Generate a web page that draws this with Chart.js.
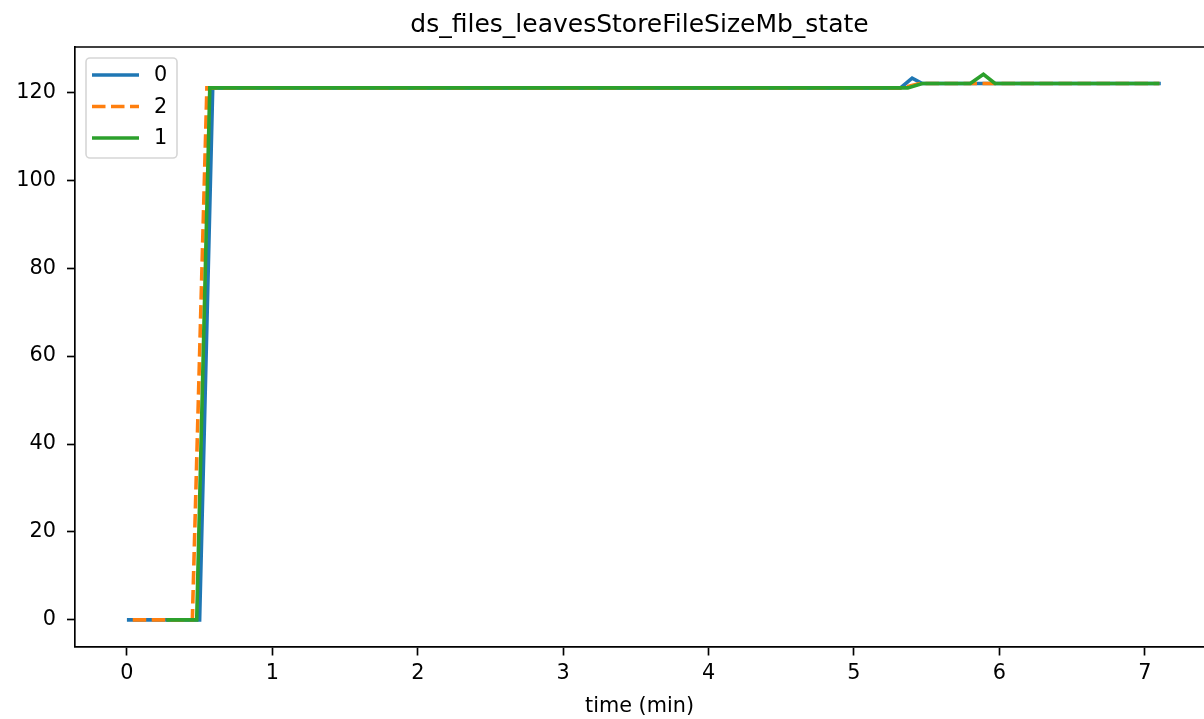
<!DOCTYPE html>
<html lang="en">
<head>
    <meta charset="UTF-8">
    <title>ds_files_leavesStoreFileSizeMb_state</title>
    <style>
        body {
            margin: 0;
            padding: 0;
            background-color: #fff;
        }

        #wrap {
            width: 1204px;
            height: 719px;
        }
    </style>
</head>
<body>
    <div id="wrap"><canvas id="stateChart" width="1204" height="719"></canvas></div>

    <script src="https://cdn.jsdelivr.net/npm/chart.js"></script>
    <script>
        // series values (time in minutes, size in Mb)
        const series0Time = [0, 0.50, 0.59, 5.32, 5.40, 5.47, 7.11];
        const series0Value = [0, 0, 121, 121, 123.2, 122, 122];

        const series2Time = [0.04, 0.45, 0.55, 5.33, 5.45, 7.10];
        const series2Value = [0, 0, 121, 121, 122, 122];

        const series1Time = [0.27, 0.48, 0.57, 5.37, 5.47, 5.80, 5.89, 5.97, 7.10];
        const series1Value = [0, 0, 121, 121, 122, 122, 124.1, 122, 122];

        const seriesLabels = ['0', '2', '1'];
        const xTicks = [0, 1, 2, 3, 4, 5, 6, 7];
        const yTicks = [0, 20, 40, 60, 80, 100, 120];

        const font = 'DejaVu Sans';

        function points(times, values) {
            return times.map((t, i) => ({ x: t, y: values[i] }));
        }

        // top spine (right one falls off the picture)
        const frame = {
            id: 'frame',
            afterDraw(chart) {
                const a = chart.chartArea;
                const ctx = chart.ctx;
                ctx.save();
                ctx.strokeStyle = '#000';
                ctx.lineWidth = 1.67;
                ctx.beginPath();
                ctx.moveTo(a.left, a.top);
                ctx.lineTo(a.right, a.top);
                ctx.stroke();
                ctx.restore();
            }
        };

        // legend box in the upper left of the axes
        const innerLegend = {
            id: 'innerLegend',
            afterDraw(chart) {
                const a = chart.chartArea;
                const ctx = chart.ctx;
                const x = a.left + 11, y = a.top + 11, w = 91, h = 100;
                ctx.save();
                ctx.fillStyle = 'rgba(255,255,255,0.8)';
                ctx.strokeStyle = '#d6d6d6';
                ctx.lineWidth = 1.6;
                ctx.beginPath();
                ctx.roundRect(x, y, w, h, 4);
                ctx.fill();
                ctx.stroke();
                ctx.font = '20.8px "' + font + '"';
                ctx.textBaseline = 'middle';
                chart.data.datasets.forEach((ds, i) => {
                    const ry = y + 17 + i * 31.5;
                    ctx.strokeStyle = ds.borderColor;
                    ctx.lineWidth = ds.borderWidth;
                    ctx.setLineDash(ds.borderDash || []);
                    ctx.beginPath();
                    ctx.moveTo(x + 6, ry);
                    ctx.lineTo(x + 53, ry);
                    ctx.stroke();
                    ctx.setLineDash([]);
                    ctx.fillStyle = '#000';
                    ctx.fillText(ds.label, x + 68, ry + 1);
                });
                ctx.restore();
            }
        };

        const ctx = document.getElementById('stateChart').getContext('2d');
        new Chart(ctx, {
            type: 'line',
            data: {
                datasets: [
                    {
                        label: seriesLabels[0],
                        data: points(series0Time, series0Value),
                        borderColor: '#1f77b4',
                        borderWidth: 3.6,
                        order: 3
                    },
                    {
                        label: seriesLabels[1],
                        data: points(series2Time, series2Value),
                        borderColor: '#ff7f0e',
                        borderWidth: 3.6,
                        borderDash: [13.5, 5.5],
                        order: 2
                    },
                    {
                        label: seriesLabels[2],
                        data: points(series1Time, series1Value),
                        borderColor: '#2ca02c',
                        borderWidth: 3.6,
                        order: 1
                    }
                ]
            },
            options: {
                responsive: false,
                animation: false,
                events: [],
                layout: { padding: 0 },
                elements: {
                    point: { radius: 0 },
                    line: { tension: 0, fill: false, borderCapStyle: 'butt', borderJoinStyle: 'miter' }
                },
                scales: {
                    x: {
                        type: 'linear',
                        min: -0.357,
                        max: 7.407,
                        afterBuildTicks: s => { s.ticks = xTicks.map(v => ({ value: v })); },
                        afterFit: s => { s.height = 72.5; },
                        grid: {
                            drawOnChartArea: false,
                            drawTicks: true,
                            tickLength: 9,
                            tickColor: '#000',
                            tickWidth: 1.67
                        },
                        border: { display: true, color: '#000', width: 1.67 },
                        ticks: {
                            color: '#000',
                            padding: 6,
                            maxRotation: 0,
                            autoSkip: false,
                            font: { family: font, size: 20.8 }
                        },
                        title: {
                            display: true,
                            text: 'time (min)',
                            color: '#000',
                            padding: { top: 0, bottom: 0 },
                            font: { family: font, size: 20.8 }
                        }
                    },
                    y: {
                        min: -6.05,
                        max: 130.3,
                        afterBuildTicks: s => { s.ticks = yTicks.map(v => ({ value: v })); },
                        afterFit: s => { s.width = 75; },
                        grid: {
                            drawOnChartArea: false,
                            drawTicks: true,
                            tickLength: 8,
                            tickColor: '#000',
                            tickWidth: 1.67
                        },
                        border: { display: true, color: '#000', width: 1.67 },
                        ticks: {
                            color: '#000',
                            padding: 11,
                            font: { family: font, size: 20.8 }
                        }
                    }
                },
                plugins: {
                    legend: { display: false },
                    tooltip: { enabled: false },
                    title: {
                        display: true,
                        fullSize: false,
                        text: 'ds_files_leavesStoreFileSizeMb_state',
                        color: '#000',
                        padding: { top: 10, bottom: 7 },
                        font: { family: font, size: 25, weight: 'normal' }
                    }
                }
            },
            plugins: [frame, innerLegend]
        });
    </script>
</body>
</html>
